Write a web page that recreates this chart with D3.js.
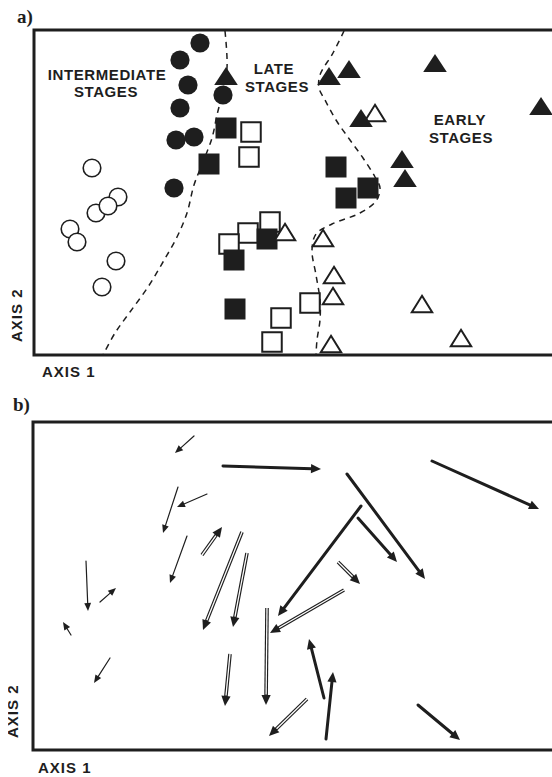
<!DOCTYPE html>
<html><head><meta charset="utf-8">
<script src="https://cdn.jsdelivr.net/npm/d3@7"></script>
<style>html,body{margin:0;padding:0;background:#fff;overflow:hidden}</style>
</head><body>
<script>
// ---------- Panel a data (ordination scores, arbitrary units) ----------
const intermediateFilled = [[166,312],[146,295],[154,270],[146,247],[142,215],[160,218],[189,260],[140,167]];
const intermediateOpen = [[84,158],[62,142],[74,149],[36,126],[43,113],[58,187],[82,94],[68,68]];
const lateOpen = [[217,223],[215,198],[236,133],[214,122],[195,111],[276,52],[247,37],[238,13]];
const lateFilled = [[192,227],[175,191],[302,188],[334,167],[312,157],[233,116],[200,95],[201,46]];
const earlyOpen = [[341,242],[251,123],[289,117],[300,80],[299,59],[388,51],[427,17],[297,11]];
const earlyFilled = [[192,279],[295,279],[315,286],[401,292],[507,249],[327,237],[368,196],[371,177]];
const boundaryLeft = [[191,324],[193,287],[188,260],[183,240],[178,217],[169,193],[160,170],[153,142],[143,118],[129,93],[114,68],[96,43],[81,22],[69,0]];
const boundaryRight = [[310,324],[299,302],[286,280],[285,267],[291,255],[302,235],[316,215],[329,197],[341,178],[346,167],[342,154],[326,142],[298,131],[282,121],[278,105],[282,80],[286,55],[286,35],[283,15],[282,0]];
const stageLabels = [["INTERMEDIATE","STAGES"],["LATE","STAGES"],["EARLY","STAGES"]];
const axisLabels = ["AXIS 1","AXIS 2"];
const panelLabels = ["a)","b)"];

// ---------- Panel b data: trajectories [x0,y0] -> [x1,y1], type ----------
const arrowStart = [[161,314],[190,284],[174,256],[145,263],[169,195],[154,214],[53,189],[67,148],[209,218],[214,197],[38,115],[77,92],[197,96],[234,142],[328,244],[325,232],[314,276],[399,289],[305,188],[311,160],[291,52],[293,11],[274,51],[385,45]];
const arrowEnd   = [[142,297],[288,281],[144,243],[130,217],[189,223],[137,167],[55,139],[83,162],[170,120],[200,123],[30,128],[61,67],[192,44],[233,45],[245,134],[364,188],[392,171],[506,241],[327,166],[237,117],[276,111],[300,78],[236,14],[427,10]];
const arrowType  = ["thin","thick","thin","thin","double","thin","thin","thin","double","double","thin","thin","double","double","thick","thick","thick","thick","double","double","thick","thick","double","thick"];

const INK = "#1e1e1e";
const svg = d3.select("body").append("svg").attr("width",552).attr("height",777);

// scales
const xA = d3.scaleLinear().domain([0,520]).range([34,554]);
const yA = d3.scaleLinear().domain([0,325]).range([355,30]);
const xB = d3.scaleLinear().domain([0,520]).range([33,553]);
const yB = d3.scaleLinear().domain([0,328]).range([750,422]);

const sans = "'Liberation Sans', Arial, Helvetica, sans-serif";
const serif = "'Liberation Serif', 'Times New Roman', serif";

// ---------- Panel a ----------
const gA = svg.append("g");
const line = d3.line().x(d=>xA(d[0])).y(d=>yA(d[1])).curve(d3.curveCatmullRom.alpha(0.5));
[boundaryLeft, boundaryRight].forEach(b=>{
  gA.append("path").attr("d", line(b)).attr("fill","none").attr("stroke",INK)
    .attr("stroke-width",1.5).attr("stroke-dasharray","6,5");
});

function circles(data, filled){
  gA.selectAll(null).data(data).enter().append("circle")
    .attr("cx",d=>xA(d[0])).attr("cy",d=>yA(d[1]))
    .attr("r", filled?9.6:8.8)
    .attr("fill", filled?INK:"#fff").attr("stroke",INK).attr("stroke-width", filled?0:1.6);
}
function squares(data, filled){
  const s = filled?21:19.5;
  gA.selectAll(null).data(data).enter().append("rect")
    .attr("x",d=>xA(d[0])-s/2).attr("y",d=>yA(d[1])-s/2).attr("width",s).attr("height",s)
    .attr("fill", filled?INK:"#fff").attr("stroke",INK).attr("stroke-width", filled?0:2);
}
function triangles(data, filled){
  const w = filled?11.8:10.2, h = filled?9:8.2;
  gA.selectAll(null).data(data).enter().append("path")
    .attr("d",d=>{const x=xA(d[0]), y=yA(d[1]);
      return `M${x},${y-h}L${x+w},${y+h}L${x-w},${y+h}Z`;})
    .attr("fill", filled?INK:"#fff").attr("stroke",INK).attr("stroke-width", filled?0:2)
    .attr("stroke-linejoin","miter");
}
circles(intermediateOpen,false);
circles(intermediateFilled,true);
squares(lateOpen,false);
squares(lateFilled,true);
triangles(earlyOpen,false);
triangles(earlyFilled,true);

// frame a (right edge runs off the picture)
gA.append("path").attr("d",`M556,${yA(325)}H${xA(0)}V${yA(0)}H556`)
  .attr("fill","none").attr("stroke",INK).attr("stroke-width",3);

// stage labels
const labelPos = [[107,80,106,97],[274,74,277,92],[460,125,461,143]];
stageLabels.forEach((l,i)=>{
  const p = labelPos[i];
  [0,1].forEach(j=>{
    gA.append("text").attr("x",p[j*2]).attr("y",p[j*2+1]).attr("text-anchor","middle")
      .attr("font-family",sans).attr("font-weight","bold").attr("font-size",15)
      .attr("letter-spacing",0.6).attr("fill",INK).text(l[j]);
  });
});

// axis titles a
svg.append("text").attr("x",42).attr("y",377).attr("font-family",sans).attr("font-weight","bold")
  .attr("font-size",15).attr("letter-spacing",1).attr("fill",INK).text(axisLabels[0]);
svg.append("text").attr("transform","translate(22,342) rotate(-90)").attr("font-family",sans)
  .attr("font-weight","bold").attr("font-size",15).attr("letter-spacing",1).attr("fill",INK).text(axisLabels[1]);
svg.append("text").attr("x",17).attr("y",23).attr("font-family",serif).attr("font-weight","bold")
  .attr("font-size",19).attr("fill",INK).text(panelLabels[0]);

// ---------- Panel b ----------
const gB = svg.append("g");
const arrows = arrowStart.map((s,i)=>({s, e:arrowEnd[i], t:arrowType[i]}));
arrows.forEach(a=>{
  const x0=xB(a.s[0]), y0=yB(a.s[1]), x1=xB(a.e[0]), y1=yB(a.e[1]);
  const dx=x1-x0, dy=y1-y0, len=Math.hypot(dx,dy), ux=dx/len, uy=dy/len, nx=-uy, ny=ux;
  const L = a.t==="thin"?8:10, W = a.t==="thin"?3.4:4.6;
  const bx=x1-ux*L, by=y1-uy*L;
  if(a.t==="double"){
    gB.append("line").attr("x1",x0).attr("y1",y0).attr("x2",bx+ux).attr("y2",by+uy)
      .attr("stroke",INK).attr("stroke-width",3.6);
    gB.append("line").attr("x1",x0).attr("y1",y0).attr("x2",bx-ux*0.5).attr("y2",by-uy*0.5)
      .attr("stroke","#fff").attr("stroke-width",1.3);
  } else {
    gB.append("line").attr("x1",x0).attr("y1",y0).attr("x2",bx+ux).attr("y2",by+uy)
      .attr("stroke",INK).attr("stroke-width",a.t==="thin"?1.2:3).attr("stroke-linecap","round");
  }
  gB.append("path").attr("d",`M${x1},${y1}L${bx+nx*W},${by+ny*W}L${bx-nx*W},${by-ny*W}Z`)
    .attr("fill",INK);
});
gB.append("path").attr("d",`M556,${yB(328)}H${xB(0)}V${yB(0)}H556`)
  .attr("fill","none").attr("stroke",INK).attr("stroke-width",3);

svg.append("text").attr("x",38).attr("y",773).attr("font-family",sans).attr("font-weight","bold")
  .attr("font-size",15).attr("letter-spacing",1).attr("fill",INK).text(axisLabels[0]);
svg.append("defs").append("clipPath").attr("id","cut").append("rect")
  .attr("x",8).attr("y",600).attr("width",40).attr("height",177);
svg.append("g").attr("clip-path","url(#cut)")
  .append("text").attr("transform","translate(18,738) rotate(-90)")
  .attr("font-family",sans).attr("font-weight","bold").attr("font-size",15).attr("letter-spacing",1)
  .attr("fill",INK).text(axisLabels[1]);
svg.append("text").attr("x",13).attr("y",411).attr("font-family",serif).attr("font-weight","bold")
  .attr("font-size",19).attr("fill",INK).text(panelLabels[1]);
</script>
</body></html>
